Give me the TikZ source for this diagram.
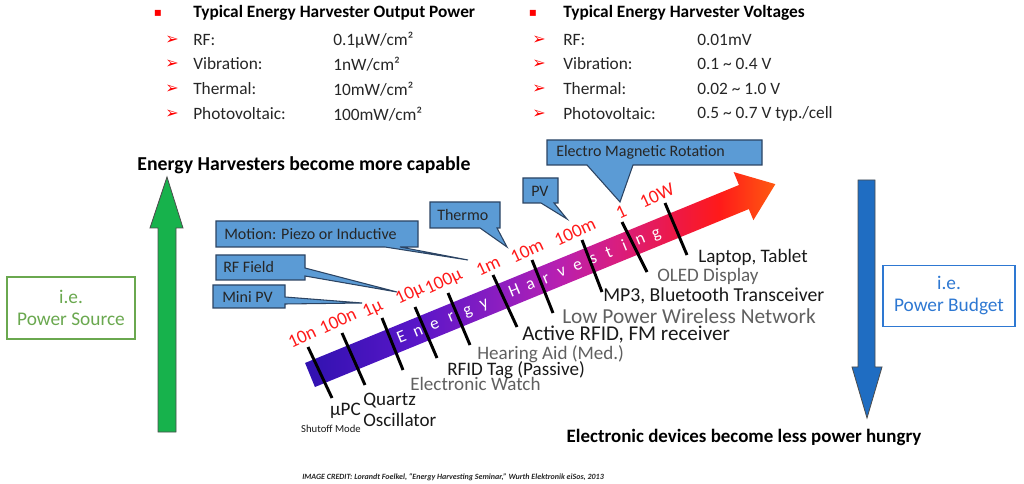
\documentclass[tikz,border=0pt]{standalone}
\usepackage{fontspec}
\setmainfont{Carlito}
\newfontfamily\symfont{DejaVu Sans}
\usetikzlibrary{calc}
\definecolor{calloutblue}{HTML}{5B9BD5}
\definecolor{calloutline}{HTML}{2C4463}
\definecolor{tickred}{HTML}{FF1A1A}
\definecolor{srcgreen}{HTML}{6AA84F}
\definecolor{arrowgreen}{HTML}{17B24C}
\definecolor{budgetblue}{HTML}{2E78D2}
\definecolor{arrowblue}{HTML}{1F6DC2}
\definecolor{devgray}{HTML}{606060}
\definecolor{hvA}{HTML}{3012B0}
\definecolor{hvB}{HTML}{5A16C8}
\definecolor{hvC}{HTML}{8E1EC0}
\definecolor{hvD}{HTML}{B81FB0}
\definecolor{hvE}{HTML}{D81E80}
\definecolor{hvF}{HTML}{F01840}
\definecolor{hvG}{HTML}{FF1A1A}
\definecolor{hvH}{HTML}{FF5A10}
\pgfdeclarehorizontalshading{harvest}{100bp}{color(0bp)=(hvA); color(25bp)=(hvA); color(37bp)=(hvB); color(46bp)=(hvC); color(52bp)=(hvD); color(58bp)=(hvE); color(65bp)=(hvF); color(69bp)=(hvG); color(75bp)=(hvH); color(100bp)=(hvH)}
\begin{document}
\begin{tikzpicture}[x=0.75pt,y=-0.75pt,
  listtext/.style={anchor=west,inner sep=0pt,text=black!85,font=\fontsize{13}{15}\selectfont},
  listhead/.style={anchor=west,inner sep=0pt,text=black,font=\fontsize{13}{15}\selectfont\bfseries},
  arrowbullet/.style={inner sep=0pt,text=red,font=\symfont\fontsize{12}{14}\selectfont},
  squarebullet/.style={inner sep=0pt,text=red,font=\symfont\fontsize{9}{11}\selectfont},
  headline/.style={inner sep=0pt,text=black,font=\fontsize{14.2}{16}\selectfont\bfseries},
  callout/.style={draw=calloutline,fill=calloutblue,line width=0.8pt,line join=miter},
  callouttext/.style={anchor=west,inner sep=0pt,text=black!85,font=\fontsize{12}{14}\selectfont},
  tickline/.style={line width=2.2pt,black},
  ticklabel/.style={inner sep=0pt,text=tickred,rotate=25,font=\fontsize{14}{16}\selectfont},
  devlabel/.style={anchor=west,inner sep=0pt,text=black!90,font=\fontsize{14.3}{16}\selectfont},
  devlabelgray/.style={devlabel,text=devgray},
  letter/.style={inner sep=0pt,anchor=base,text=white,transform shape,font=\fontsize{13}{15}\selectfont},
  sourcebox/.style={draw=srcgreen,line width=1.1pt,text=srcgreen,align=center,minimum width=96pt,minimum height=46.5pt,font=\fontsize{14.5}{16.5}\selectfont},
  budgetbox/.style={draw=budgetblue,line width=1.1pt,text=budgetblue,align=center,minimum width=99pt,minimum height=45.75pt,font=\fontsize{14.5}{16.5}\selectfont}]
\useasboundingbox (0,0) rectangle (1024,484);

% output power list
\node[squarebullet] (Q_pow) at (158,13) {▪};
\node[listhead] (H_pow) at (193,13) {Typical Energy Harvester Output Power};
\foreach \y/\lab/\val [count=\i] in {40/{RF:}/{0.1µW/cm²}, 64/{Vibration:}/{1nW/cm²}, 89/{Thermal:}/{10mW/cm²}, 114/{Photovoltaic:}/{100mW/cm²}} {
  \node[arrowbullet] (A_pow_\i) at (172,\y) {➢};
  \node[listtext] (L_pow_\i) at (193,\y) {\lab};
  \node[listtext] (V_pow_\i) at (333,\y) {\val};
}

% voltage list
\node[squarebullet] (Q_volt) at (533,13) {▪};
\node[listhead] (H_volt) at (563,13) {Typical Energy Harvester Voltages};
\foreach \y/\lab/\val [count=\i] in {40/{RF:}/{0.01mV}, 64/{Vibration:}/{0.1 \textasciitilde{} 0.4 V}, 89/{Thermal:}/{0.02 \textasciitilde{} 1.0 V}, 114/{Photovoltaic:}/{0.5 \textasciitilde{} 0.7 V typ./cell}} {
  \node[arrowbullet] (A_volt_\i) at (539,\y) {➢};
  \node[listtext] (L_volt_\i) at (563,\y) {\lab};
  \node[listtext] (V_volt_\i) at (697,\y) {\val};
}

% side arrows and boxes
\node[headline,font=\fontsize{14.8}{16}\selectfont\bfseries] (H_up) at (304,165) {Energy Harvesters become more capable};
\draw[fill=arrowgreen,draw=black!70,line width=0.6pt] (158,432) -- (158,228) -- (150,228) -- (167,177) -- (183,228) -- (176,228) -- (176,432) -- cycle;
\node[sourcebox] (B_source) at (71,308) {i.e.\\Power Source};
\node[headline] (H_down) at (744,437) {Electronic devices become less power hungry};
\draw[fill=arrowblue,draw=black!70,line width=0.6pt] (858,180) -- (875,180) -- (875,367) -- (882,367) -- (867,418) -- (852,367) -- (858,367) -- cycle;
\node[budgetbox] (B_budget) at (949,296) {i.e.\\Power Budget};

% main arrow
\begin{scope}[shift={(310,375)},rotate=22.3]
\shade[shading=harvest] (0,-13) -- (469,-13) -- (469,-27) -- (503,0) -- (469,25) -- (469,13) -- (0,13) -- cycle;
\foreach \ch [count=\i] in {E,n,e,r,g,y}
  \node[letter] (E_\i) at (99+17.8*\i-17.8,5) {\ch};
\foreach \ch [count=\i] in {H,a,r,v,e,s,t,i,n,g}
  \node[letter] (W_\i) at (221+17*\i-17,5) {\ch};
\end{scope}

% ticks
\foreach \xa/\ya/\xb/\yb [count=\i] in {308/347/332/398, 342/333/365/385, 382/318/403/370, 415/307/437/358, 448/293/470/345, 493/275/517/327, 532/260/553/313, 582/240/602/292, 622/222/647/272, 665/203/687/255} {
  \coordinate (T_\i_a) at (\xa,\ya);
  \coordinate (T_\i_b) at (\xb,\yb);
  \draw[tickline] (T_\i_a) -- (T_\i_b);
}
\foreach \x/\y/\t [count=\i] in {302/337/10n, 338/321/100n, 373/309/1µ, 410/294/10µ, 444/282/100µ, 488/266/1m, 527/251/10m, 575/232/100m, 621/212/1, 657/196/10W}
  \node[ticklabel] (R_\i) at (\x,\y) {\t};

% device labels
\node[devlabel,anchor=north east,align=right] (D_1) at (361,403) {µPC\\[-3pt]{\fontsize{8}{9}\selectfont Shutoff Mode}};
\node[devlabel,align=left,anchor=north west] (D_2) at (363,393) {Quartz\\Oscillator};
\node[devlabelgray] (D_3) at (410,384) {Electronic Watch};
\node[devlabel] (D_4) at (447,370) {RFID Tag (Passive)};
\node[devlabelgray] (D_5) at (477,354) {Hearing Aid (Med.)};
\node[devlabel,font=\fontsize{15.8}{17}\selectfont] (D_6) at (522,335) {Active RFID, FM receiver};
\node[devlabelgray,font=\fontsize{16}{17}\selectfont] (D_7) at (562,316) {Low Power Wireless Network};
\node[devlabel,font=\fontsize{14.8}{16}\selectfont] (D_8) at (603,296) {MP3, Bluetooth Transceiver};
\node[devlabelgray] (D_9) at (657,276) {OLED Display};
\node[devlabel] (D_10) at (698,257) {Laptop, Tablet};

% callouts
\coordinate (C_motion_tip) at (468,260);
\draw[callout] (216,221) -- (418,221) -- (418,247) -- (400,247) -- (C_motion_tip) -- (385,247) -- (216,247) -- cycle;
\node[callouttext] (C_motion) at (224,234) {Motion: Piezo or Inductive};
\coordinate (C_rf_tip) at (397,292);
\draw[callout] (216,255) -- (305,255) -- (305,268) -- (C_rf_tip) -- (305,276) -- (305,280) -- (216,280) -- cycle;
\node[callouttext] (C_rf) at (223,267) {RF Field};
\coordinate (C_mini_tip) at (362,303);
\draw[callout] (213,285) -- (285,285) -- (285,297) -- (C_mini_tip) -- (285,304) -- (285,308) -- (213,308) -- cycle;
\node[callouttext] (C_mini) at (222,297) {Mini PV};
\coordinate (C_thermo_tip) at (507,247);
\draw[callout] (430,202) -- (500,202) -- (500,228) -- (497,228) -- (C_thermo_tip) -- (480,228) -- (430,228) -- cycle;
\node[callouttext] (C_thermo) at (437,215) {Thermo};
\coordinate (C_pv_tip) at (567,219);
\draw[callout] (523,178) -- (558,178) -- (558,203) -- (554,203) -- (C_pv_tip) -- (541,203) -- (523,203) -- cycle;
\node[callouttext] (C_pv) at (531,191) {PV};
\coordinate (C_emr_tip) at (620,202);
\draw[callout] (547,140) -- (762,140) -- (762,165) -- (633,165) -- (C_emr_tip) -- (587,165) -- (547,165) -- cycle;
\node[callouttext] (C_emr) at (556,152) {Electro Magnetic Rotation};

% credit
\node[anchor=west,inner sep=0pt,text=black!85,font=\fontsize{6}{7}\selectfont\bfseries\itshape] (N_credit) at (302,477) {IMAGE CREDIT: Lorandt Foelkel, ``Energy Harvesting Seminar,'' Wurth Elektronik eiSos, 2013};
\end{tikzpicture}
\end{document}
